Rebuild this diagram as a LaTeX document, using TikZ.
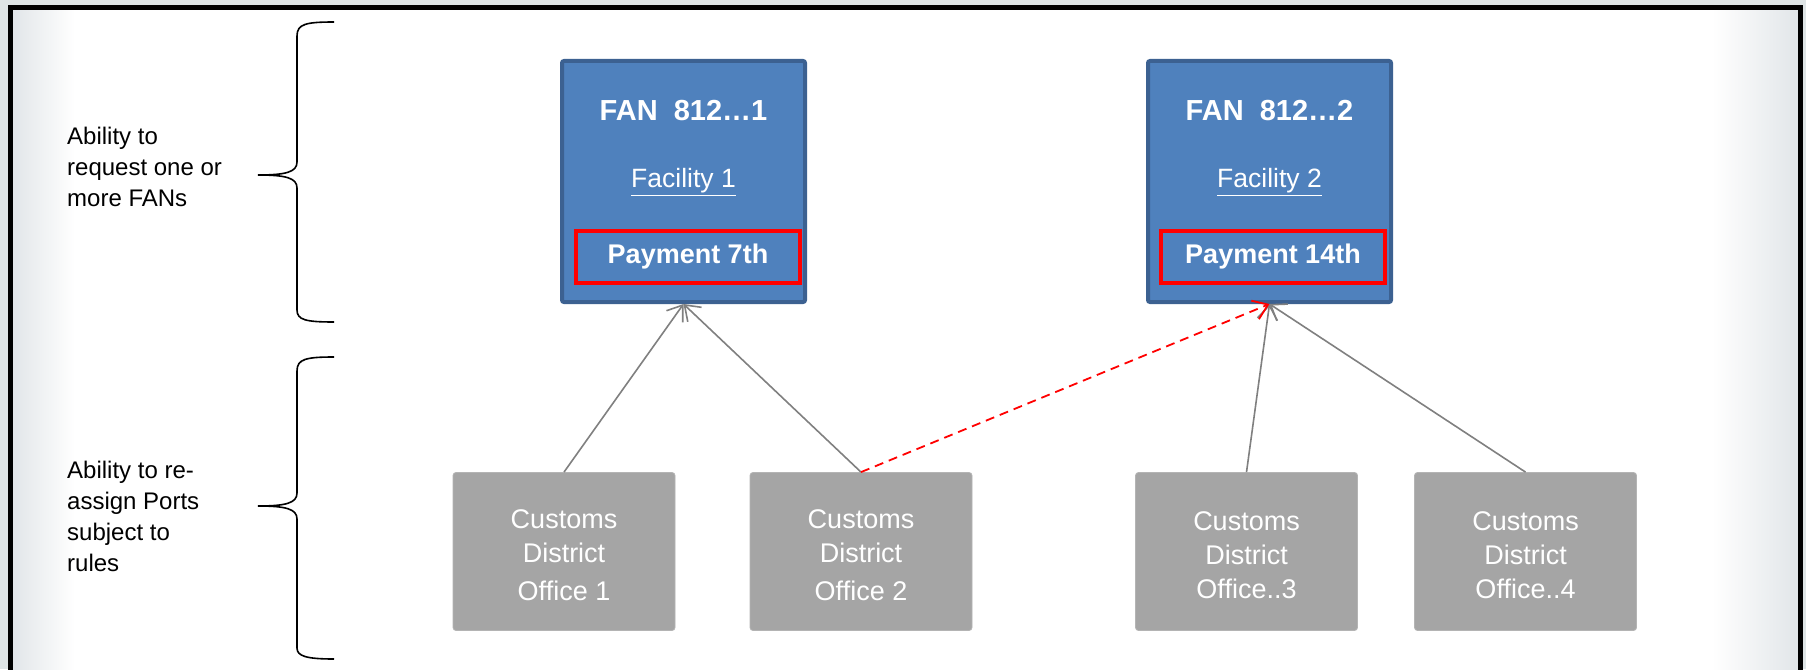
\documentclass[tikz,border=0pt]{standalone}
\usepackage{fontspec}
\setmainfont{Liberation Sans}
\usetikzlibrary{arrows.meta}
\definecolor{fanblue}{HTML}{4F81BD}
\definecolor{fanedge}{HTML}{3C6191}
\definecolor{officegray}{HTML}{A5A5A5}
\definecolor{officeedge}{HTML}{B4B4B4}
\definecolor{linkgray}{HTML}{808080}
\definecolor{outerbg}{HTML}{DEE4E5}
\definecolor{edgeshade}{HTML}{E2E6E9}
\begin{document}
\begin{tikzpicture}[x=1pt,y=-1pt,
  fanbox/.style={draw=fanedge, fill=fanblue, line width=4pt, rounded corners=2pt,
    minimum width=243pt, minimum height=241pt, inner sep=0pt},
  paybox/.style={draw=red, line width=3.5pt, minimum width=224pt, minimum height=52pt,
    inner sep=0pt, text=white, font=\fontsize{27}{32}\selectfont\bfseries},
  fantitle/.style={inner sep=0pt, text=white, font=\fontsize{29}{34}\selectfont\bfseries},
  facil/.style={inner sep=0pt, text=white, font=\fontsize{26.5}{32}\selectfont},
  office/.style={draw=officeedge, fill=officegray, line width=0.8pt, rounded corners=3pt,
    minimum width=222pt, minimum height=158pt, inner sep=0pt},
  officetext/.style={inner sep=0pt, align=center, text=white, font=\fontsize{27}{34}\selectfont},
  sidetext/.style={inner sep=0pt, anchor=west, align=left, font=\fontsize{24}{31}\selectfont},
  link/.style={draw=linkgray, line width=1.6pt, -{Straight Barb[length=14pt,width=20pt,line width=1.6pt]}},
  movelink/.style={draw=red, line width=1.8pt, dash pattern=on 9pt off 6pt,
    -{Straight Barb[length=14pt,width=20pt,line width=1.8pt]}},
  bracestroke/.style={draw=black, line width=1.6pt}
]
\useasboundingbox (0,0) rectangle (1806,669);
\clip (0,0) rectangle (1806,669);

% page background and framed panel
\fill[outerbg] (0,0) rectangle (1806,669);
\fill[white] (10,7.5) rectangle (1800.5,680);
\shade[left color=edgeshade, right color=white] (12.5,10) rectangle (75,680);
\shade[left color=white, right color=edgeshade] (1712,10) rectangle (1798,680);
\draw[line width=5pt] (10,690) -- (10,7.5) -- (1800.5,7.5) -- (1800.5,690);

% side notes with braces
\node[sidetext] (note1) at (67,167) {Ability to\\request one or\\more FANs};
\node[sidetext] (note2) at (67,516) {Ability to re-\\assign Ports\\subject to\\rules};

\draw[bracestroke] (334,22) .. controls (306,22) and (297,24) .. (297,36)
  -- (297,162) .. controls (297,172) and (286,175) .. (258,175)
  .. controls (286,175) and (297,178) .. (297,188)
  -- (297,310) .. controls (297,320) and (306,322) .. (334,322);
\draw[bracestroke] (334,357) .. controls (306,357) and (297,359) .. (297,371)
  -- (297,493) .. controls (297,503) and (286,506) .. (258,506)
  .. controls (286,506) and (297,509) .. (297,519)
  -- (297,648) .. controls (297,656) and (306,659) .. (334,659);

% FAN accounts
\node[fanbox] (fan1) at (683.5,181.5) {};
\node[fantitle] (fan1t) at (683.5,111) {FAN\ \ 812…1};
\node[facil] (fac1) at (683.5,182) {\underline{Facility 1}};
\node[paybox] (pay1) at (688,257) {Payment 7th};

\node[fanbox] (fan2) at (1269.5,181.5) {};
\node[fantitle] (fan2t) at (1269.5,111) {FAN\ \ 812…2};
\node[facil] (fac2) at (1269.5,182) {\underline{Facility 2}};
\node[paybox] (pay2) at (1273,257) {Payment 14th};

% customs district offices
\node[office] (off1) at (564,551.5) {};
\node[officetext] (off1t) at (564,555) {Customs\\District\\[4pt]Office 1};
\node[office] (off2) at (861,551.5) {};
\node[officetext] (off2t) at (861,555) {Customs\\District\\[4pt]Office 2};
\node[office] (off3) at (1246.5,551.5) {};
\node[officetext] (off3t) at (1246.5,555) {Customs\\District\\Office..3};
\node[office] (off4) at (1525.5,551.5) {};
\node[officetext] (off4t) at (1525.5,555) {Customs\\District\\Office..4};

% port assignments
\draw[link] (off1.north) -- (fan1.south);
\draw[link] (off2.north) -- (fan1.south);
\draw[link] (off3.north) -- (fan2.south);
\draw[link] (off4.north) -- (fan2.south);
\draw[movelink] (off2.north) -- (fan2.south);
\end{tikzpicture}
\end{document}
